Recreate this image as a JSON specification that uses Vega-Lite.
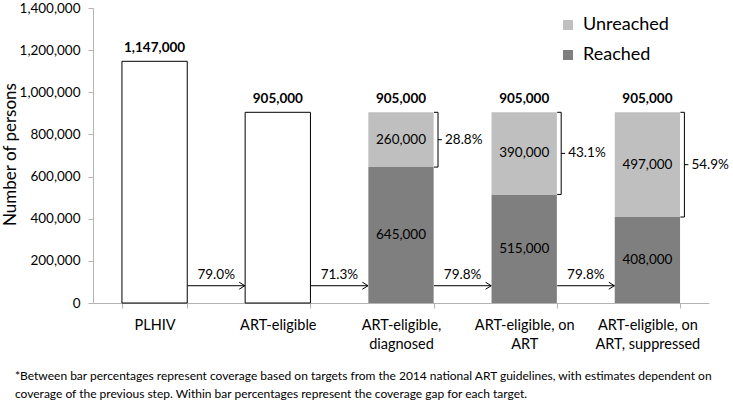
{
  "$schema": "https://vega.github.io/schema/vega-lite/v6.json",
  "width": 616,
  "height": 295,
  "autosize": {"type": "none"},
  "padding": {"left": 93, "top": 8, "right": 24, "bottom": 107},
  "background": "white",
  "config": {"font": "Lato", "view": {"stroke": null}},
  "title": {
    "text": ["*Between bar percentages represent coverage based on targets from the 2014 national ART guidelines, with estimates dependent on", "coverage of the previous step. Within bar percentages represent the coverage gap for each target."],
    "orient": "bottom", "anchor": "start", "frame": "group", "dx": -78, "offset": 20,
    "fontSize": 12, "fontWeight": "normal", "lineHeight": 18, "color": "black", "font": "Lato"
  },
  "datasets": {
    "bars": [
      {"category": "PLHIV", "group": "Total", "value": 1147000},
      {"category": "ART-eligible", "group": "Total", "value": 905000},
      {"category": "ART-eligible, diagnosed", "group": "Reached", "value": 645000},
      {"category": "ART-eligible, diagnosed", "group": "Unreached", "value": 260000, "gap": "28.8%"},
      {"category": "ART-eligible, on ART", "group": "Reached", "value": 515000},
      {"category": "ART-eligible, on ART", "group": "Unreached", "value": 390000, "gap": "43.1%"},
      {"category": "ART-eligible, on ART, suppressed", "group": "Reached", "value": 408000},
      {"category": "ART-eligible, on ART, suppressed", "group": "Unreached", "value": 497000, "gap": "54.9%"}
    ],
    "steps": [
      {"from": "PLHIV", "to": "ART-eligible", "pct": "79.0%"},
      {"from": "ART-eligible", "to": "ART-eligible, diagnosed", "pct": "71.3%"},
      {"from": "ART-eligible, diagnosed", "to": "ART-eligible, on ART", "pct": "79.8%"},
      {"from": "ART-eligible, on ART", "to": "ART-eligible, on ART, suppressed", "pct": "79.8%"}
    ]
  },
  "layer": [
    {
      "data": {"name": "bars"},
      "transform": [{"filter": "datum.group === 'Total'"}],
      "mark": {"type": "bar", "fill": "white", "stroke": "black", "strokeWidth": 1},
      "encoding": {
        "x": {"field": "category", "type": "nominal", "sort": null, "title": null,
          "scale": {"type": "band", "domain": ["PLHIV", "ART-eligible", "ART-eligible, diagnosed", "ART-eligible, on ART", "ART-eligible, on ART, suppressed"], "paddingInner": 0.47, "paddingOuter": 0.235},
          "axis": {"title": null, "tickBand": "extent", "domainColor": "#b3b3b3", "tickColor": "#b3b3b3", "tickSize": 5, "labelFontSize": 14.5, "labelColor": "black", "labelPadding": 10, "labelAngle": 0, "labelLineHeight": 19, "labelBaseline": "top", "labelOverlap": false, "labelBound": false,
            "labelExpr": "datum.value == 'ART-eligible, diagnosed' ? ['ART-eligible,', 'diagnosed'] : datum.value == 'ART-eligible, on ART' ? ['ART-eligible, on', 'ART'] : datum.value == 'ART-eligible, on ART, suppressed' ? ['ART-eligible, on', 'ART, suppressed'] : datum.value"}},
        "y": {"field": "value", "type": "quantitative", "title": "Number of persons",
          "scale": {"domain": [0, 1400000], "nice": false},
          "axis": {"title": "Number of persons", "values": [0, 200000, 400000, 600000, 800000, 1000000, 1200000, 1400000], "format": ",d", "grid": false, "domainColor": "#b3b3b3", "tickColor": "#b3b3b3", "tickSize": 5, "labelFontSize": 13.5, "labelColor": "black", "labelPadding": 8,
            "titleFontSize": 17, "titleFontWeight": "normal", "titleColor": "black", "titleX": -83, "titleY": 146, "titleAngle": -90, "titleAlign": "center", "titleBaseline": "middle"}}
      }
    },
    {
      "data": {"name": "bars"},
      "transform": [{"filter": "datum.group !== 'Total'"}],
      "mark": {"type": "bar"},
      "encoding": {
        "x": {"field": "category", "type": "nominal", "sort": null},
        "y": {"field": "value", "type": "quantitative", "stack": "zero"},
        "color": {"field": "group", "type": "nominal",
          "scale": {"domain": ["Unreached", "Reached"], "range": ["#bfbfbf", "#7f7f7f"]},
          "legend": {"title": null, "orient": "none", "legendX": 466, "legendY": 8, "symbolType": "square", "symbolSize": 100, "symbolStrokeWidth": 0, "labelFontSize": 18, "labelColor": "black", "labelOffset": 6, "rowPadding": 12, "padding": 0}},
        "order": {"field": "group", "type": "nominal", "sort": "ascending"}
      }
    },
    {
      "data": {"name": "bars"},
      "mark": {"type": "text", "fontWeight": "bold", "fontSize": 13.5, "baseline": "middle", "dy": -13, "color": "black"},
      "encoding": {
        "x": {"field": "category", "type": "nominal", "sort": null},
        "y": {"aggregate": "sum", "field": "value", "type": "quantitative"},
        "text": {"aggregate": "sum", "field": "value", "type": "quantitative", "format": ","}
      }
    },
    {
      "data": {"name": "bars"},
      "transform": [{"filter": "datum.group !== 'Total'"}],
      "mark": {"type": "text", "fontSize": 13.5, "baseline": "middle", "color": "black"},
      "encoding": {
        "x": {"field": "category", "type": "nominal", "sort": null},
        "y": {"field": "value", "type": "quantitative", "stack": "zero", "bandPosition": 0.5},
        "detail": {"field": "group", "type": "nominal"},
        "order": {"field": "group", "type": "nominal", "sort": "ascending"},
        "text": {"field": "value", "type": "quantitative", "format": ","}
      }
    },
    {
      "data": {"name": "bars"},
      "transform": [{"filter": "datum.group !== 'Total'"}],
      "mark": {"type": "rule", "xOffset": 37, "color": "black", "strokeWidth": 1},
      "encoding": {
        "x": {"field": "category", "type": "nominal", "sort": null},
        "y": {"field": "value", "type": "quantitative", "stack": "zero"},
        "detail": {"field": "group", "type": "nominal"},
        "order": {"field": "group", "type": "nominal", "sort": "ascending"},
        "strokeOpacity": {"condition": {"test": "datum.group === 'Unreached'", "value": 1}, "value": 0}
      }
    },
    {
      "data": {"name": "bars"},
      "transform": [{"filter": "datum.group !== 'Total'"}],
      "mark": {"type": "point", "shape": "M -1 0 L 0 0", "size": 64, "filled": false, "stroke": "black", "strokeWidth": 1, "opacity": 1, "xOffset": 37},
      "encoding": {
        "x": {"field": "category", "type": "nominal", "sort": null},
        "y": {"field": "value", "type": "quantitative", "stack": "zero", "bandPosition": 1},
        "detail": {"field": "group", "type": "nominal"},
        "order": {"field": "group", "type": "nominal", "sort": "ascending"},
        "strokeOpacity": {"condition": {"test": "datum.group === 'Unreached'", "value": 1}, "value": 0}
      }
    },
    {
      "data": {"name": "bars"},
      "transform": [{"filter": "datum.group !== 'Total'"}],
      "mark": {"type": "point", "shape": "M -1 0 L 0 0", "size": 64, "filled": false, "stroke": "black", "strokeWidth": 1, "opacity": 1, "xOffset": 37},
      "encoding": {
        "x": {"field": "category", "type": "nominal", "sort": null},
        "y": {"field": "value", "type": "quantitative", "stack": "zero", "bandPosition": 0},
        "detail": {"field": "group", "type": "nominal"},
        "order": {"field": "group", "type": "nominal", "sort": "ascending"},
        "strokeOpacity": {"condition": {"test": "datum.group === 'Unreached'", "value": 1}, "value": 0}
      }
    },
    {
      "data": {"name": "bars"},
      "transform": [{"filter": "datum.group !== 'Total'"}],
      "mark": {"type": "point", "shape": "M 0 0 L 1 0", "size": 64, "filled": false, "stroke": "black", "strokeWidth": 1, "opacity": 1, "xOffset": 37},
      "encoding": {
        "x": {"field": "category", "type": "nominal", "sort": null},
        "y": {"field": "value", "type": "quantitative", "stack": "zero", "bandPosition": 0.5},
        "detail": {"field": "group", "type": "nominal"},
        "order": {"field": "group", "type": "nominal", "sort": "ascending"},
        "strokeOpacity": {"condition": {"test": "datum.group === 'Unreached'", "value": 1}, "value": 0}
      }
    },
    {
      "data": {"name": "bars"},
      "transform": [{"filter": "datum.group !== 'Total'"}],
      "mark": {"type": "text", "fontSize": 13.5, "align": "left", "baseline": "middle", "color": "black", "xOffset": 44},
      "encoding": {
        "x": {"field": "category", "type": "nominal", "sort": null},
        "y": {"field": "value", "type": "quantitative", "stack": "zero", "bandPosition": 0.5},
        "detail": {"field": "group", "type": "nominal"},
        "order": {"field": "group", "type": "nominal", "sort": "ascending"},
        "text": {"field": "gap", "type": "nominal"},
        "opacity": {"condition": {"test": "datum.group === 'Unreached'", "value": 1}, "value": 0}
      }
    },
    {
      "data": {"name": "steps"},
      "mark": {"type": "rule", "xOffset": 33, "x2Offset": -33, "color": "black", "strokeWidth": 1},
      "encoding": {
        "x": {"field": "from", "type": "nominal", "sort": null},
        "x2": {"field": "to"},
        "y": {"datum": 82000, "type": "quantitative"}
      }
    },
    {
      "data": {"name": "steps"},
      "mark": {"type": "point", "shape": "M -1.6 -1 L 0 0 L -1.6 1", "size": 49, "filled": false, "stroke": "black", "strokeWidth": 1, "opacity": 1, "xOffset": -33},
      "encoding": {
        "x": {"field": "to", "type": "nominal", "sort": null},
        "y": {"datum": 82000, "type": "quantitative"}
      }
    },
    {
      "data": {"name": "steps"},
      "mark": {"type": "text", "fontSize": 13.5, "baseline": "middle", "color": "black", "xOffset": 61.6, "dy": -11},
      "encoding": {
        "x": {"field": "from", "type": "nominal", "sort": null},
        "y": {"datum": 82000, "type": "quantitative"},
        "text": {"field": "pct", "type": "nominal"}
      }
    }
  ]
}
